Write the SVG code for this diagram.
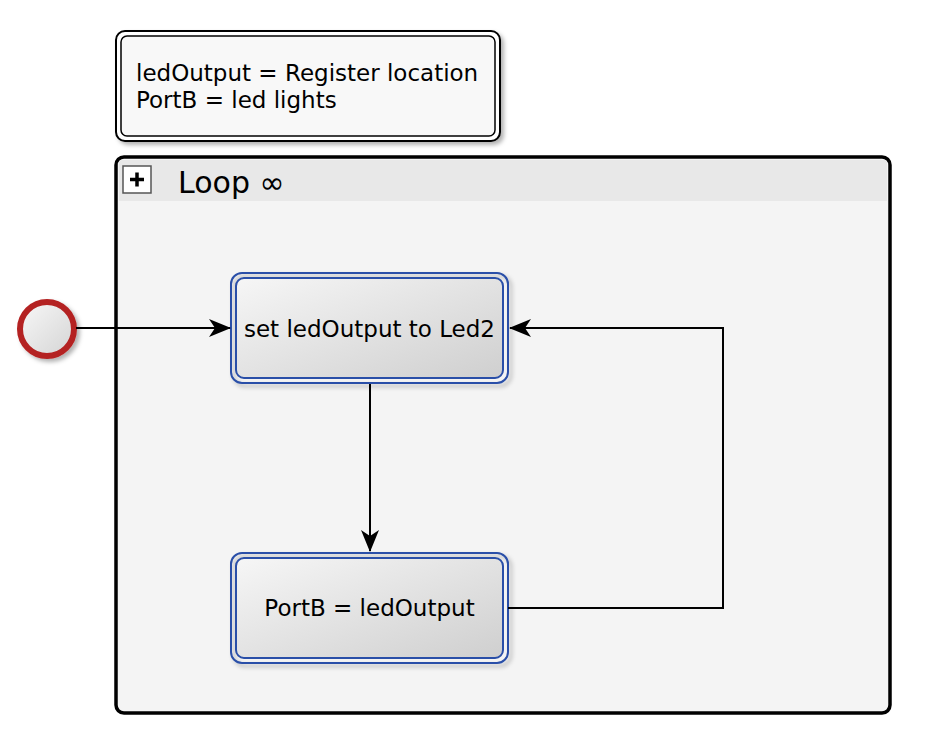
<svg xmlns="http://www.w3.org/2000/svg" width="940" height="738" viewBox="0 0 940 738">
<style>
text{font-family:"DejaVu Sans","Liberation Sans",sans-serif;fill:#000}
.lbl{font-size:23px}
.task-o{fill:none;stroke:#2a4fa8;stroke-width:2}
.task-i{fill:url(#tg);stroke:#2a4fa8;stroke-width:2}
.conn{fill:none;stroke:#000;stroke-width:2}
</style>
<defs>
<linearGradient id="tg" x1="0" y1="0" x2="1" y2="1">
<stop offset="0" stop-color="#f6f6f6"/><stop offset="1" stop-color="#cfcfcf"/>
</linearGradient>
<linearGradient id="cg" x1="0" y1="0" x2="1" y2="1">
<stop offset="0" stop-color="#f8f8f8"/><stop offset="1" stop-color="#d4d4d4"/>
</linearGradient>
<filter id="sh" x="-10%" y="-10%" width="130%" height="130%">
<feDropShadow dx="3" dy="3" stdDeviation="2" flood-color="#000" flood-opacity="0.3"/>
</filter>
<marker id="ah" viewBox="0 0 22 18" refX="21" refY="9" markerWidth="22" markerHeight="18" markerUnits="userSpaceOnUse" orient="auto">
<path d="M0,0 L22,9 L0,18 L6,9 Z" fill="#000"/>
</marker>
</defs>
<rect width="940" height="738" fill="#fff"/>

<g id="note">
<rect x="116" y="31" width="384" height="110" rx="9" fill="#fff" stroke="#000" stroke-width="2" filter="url(#sh)"/>
<rect x="121" y="36" width="374" height="100" rx="6" fill="#f8f8f8" stroke="#000" stroke-width="1.5"/>
<text class="lbl" x="136" y="81">ledOutput = Register location</text>
<text class="lbl" x="136" y="108">PortB = led lights</text>
</g>

<g id="loop">
<rect x="116" y="157" width="774" height="556" rx="8" fill="#f4f4f4" stroke="#000" stroke-width="3.5"/>
<path d="M119,201 V163 Q119,160 122,160 H884 Q887,160 887,163 V201 Z" fill="#e8e8e8"/>
<rect x="123" y="166" width="28" height="27" fill="#fff" stroke="#555" stroke-width="1.5"/>
<path d="M130,179.5 H144 M137,172.5 V186.5" stroke="#000" stroke-width="3.5"/>
<text x="178" y="193" font-size="30">Loop ∞</text>
</g>

<g id="start">
<circle cx="47" cy="329" r="27" fill="url(#cg)" stroke="#b42222" stroke-width="6" filter="url(#sh)"/>
</g>

<g id="task1">
<rect x="231" y="273" width="277" height="110" rx="11" fill="#fff" class="task-o" filter="url(#sh)"/>
<rect x="236" y="278" width="267" height="100" rx="8" class="task-i"/>
<text class="lbl" x="369.5" y="337" text-anchor="middle">set ledOutput to Led2</text>
</g>

<g id="task2">
<rect x="231" y="553" width="277" height="110" rx="11" fill="#fff" class="task-o" filter="url(#sh)"/>
<rect x="236" y="558" width="267" height="100" rx="8" class="task-i"/>
<text class="lbl" x="369.5" y="616" text-anchor="middle">PortB = ledOutput</text>
</g>

<g id="connectors">
<path class="conn" d="M76,328 H230" marker-end="url(#ah)"/>
<path class="conn" d="M370,384 V551" marker-end="url(#ah)"/>
<path class="conn" d="M508,608 H723 V328 H510" marker-end="url(#ah)"/>
</g>
</svg>
